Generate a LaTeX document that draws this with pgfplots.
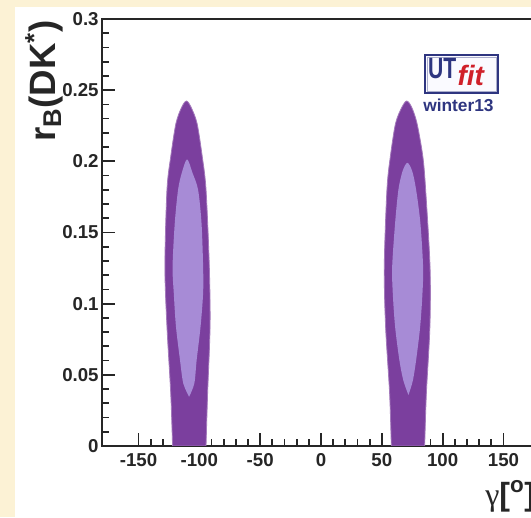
\documentclass[border=0pt]{standalone}
\usepackage{pgfplots}
\pgfplotsset{compat=1.18}
\usepackage{fontspec}
\setmainfont{Liberation Sans}
\newfontfamily\seriffont{Liberation Serif}
\definecolor{bgc}{HTML}{FCF2D5}
\definecolor{outerc}{HTML}{7B3F9E}
\definecolor{innerc}{HTML}{A78BD6}
\definecolor{navy}{HTML}{2E3580}
\definecolor{fitred}{HTML}{D0202A}
\begin{document}
\begin{tikzpicture}[x=1pt,y=1pt]
\fill[bgc] (0,0) rectangle (398.25,387.75);
\fill[white] (11.25,0) rectangle (398.25,382.5);
\begin{axis}[
  at={(76.5pt,53.25pt)}, anchor=south west,
  scale only axis, width=328.5pt, height=320.25pt,
  xmin=-180, xmax=180, ymin=0, ymax=0.3,
  axis line style={line width=1.5pt, black!85},
  every tick/.style={line width=1.3pt, black!85},
  major tick length=9.75pt, minor tick length=5.5pt,
  tick align=inside, xtick pos=bottom, ytick pos=left,
  xtick={-150,-100,-50,0,50,100,150},
  xticklabels={-150,-100,-50,0,50,100,150},
  ytick={0,0.05,0.1,0.15,0.2,0.25,0.3},
  yticklabels={0,0.05,0.1,0.15,0.2,0.25,0.3},
  minor x tick num=4, minor y tick num=4,
  ticklabel style={font=\bfseries\fontsize{14}{16}\selectfont, black!85},
  xticklabel style={yshift=-2pt},
  yticklabel style={xshift=1pt},
  axis background/.style={fill=white},
]
% outer (dark) regions
\addplot[fill=outerc, draw=outerc!70!white, line width=0.6pt, smooth, tension=0.5] coordinates {
(-122,0) (-123.5,0.037) (-126.6,0.0838) (-128.3,0.126) (-126.6,0.18) (-123.5,0.2033) (-119.2,0.2267) (-114.5,0.238) (-110.6,0.2424) (-106.8,0.238) (-101.9,0.2267) (-97.6,0.2033) (-94.5,0.18) (-91.8,0.126) (-91.2,0.0838) (-93.2,0.037) (-94.5,0)
} -- cycle;
\addplot[fill=outerc, draw=outerc!70!white, line width=0.6pt, smooth, tension=0.5] coordinates {
(57.8,0) (56.4,0.037) (53.1,0.0838) (52,0.126) (54.2,0.18) (57,0.2033) (61.3,0.2267) (66.5,0.238) (70.5,0.2424) (74.5,0.238) (78.9,0.2267) (83.7,0.2033) (86,0.18) (89.6,0.126) (89.5,0.0838) (86.6,0.037) (85.2,0)
} -- cycle;
% inner (light) regions
\addplot[fill=innerc, draw=none, smooth, tension=0.5] coordinates {
(-108.4,0.0346) (-113.2,0.044) (-115.9,0.0604) (-119.2,0.0838) (-121,0.1073) (-122,0.126) (-120.2,0.1565) (-117.5,0.1799) (-114.5,0.1916) (-110.1,0.2014) (-105.5,0.1916) (-101,0.1799) (-98.2,0.1565) (-96.9,0.126) (-96.9,0.1073) (-99,0.0838) (-102.2,0.0604) (-104.1,0.044) (-108.4,0.0346)
} -- cycle;
\addplot[fill=innerc, draw=none, smooth, tension=0.5] coordinates {
(71.9,0.0358) (67.7,0.046) (64.4,0.0604) (60.9,0.0838) (59,0.1073) (58.5,0.126) (60.9,0.1565) (63.6,0.1799) (67,0.193) (71,0.199) (75,0.193) (78.2,0.1799) (81.7,0.1565) (83.9,0.126) (83.4,0.1073) (81.5,0.0838) (78.2,0.0604) (75.5,0.046) (71.9,0.0358)
} -- cycle;
\end{axis}
% axis labels
\node[rotate=90, anchor=base east, inner sep=0pt, font=\bfseries\fontsize{27.5}{32}\selectfont, black!85]
  at (41.25,372.75) {r\textsubscript{B}(DK\textsuperscript{*})};
\node[anchor=base west, inner sep=0pt, font=\bfseries\fontsize{24}{28}\selectfont, black!85]
  at (363.75,9) {{\seriffont\mdseries γ}[\textsuperscript{o}]};
% logo
\draw[navy, line width=1.2pt, fill=blue!2] (318.75,318) rectangle (373.5,346.5);
\draw[navy!40, line width=0.4pt] (320.2,319.4) rectangle (372.1,345.1);
\node[anchor=base west, inner sep=0pt, navy, xscale=0.72, font=\bfseries\fontsize{22}{24}\selectfont] at (321,328.5) {UT};
\node[anchor=base west, inner sep=0pt, fitred, font=\bfseries\itshape\fontsize{21}{24}\selectfont] at (343,323.5) {fit};
\node[anchor=base west, inner sep=0pt, navy, font=\bfseries\fontsize{13}{15}\selectfont] at (317.25,304) {winter13};
\pgfresetboundingbox
\path[use as bounding box] (0,0) rectangle (398.25,387.75);
\end{tikzpicture}
\end{document}
